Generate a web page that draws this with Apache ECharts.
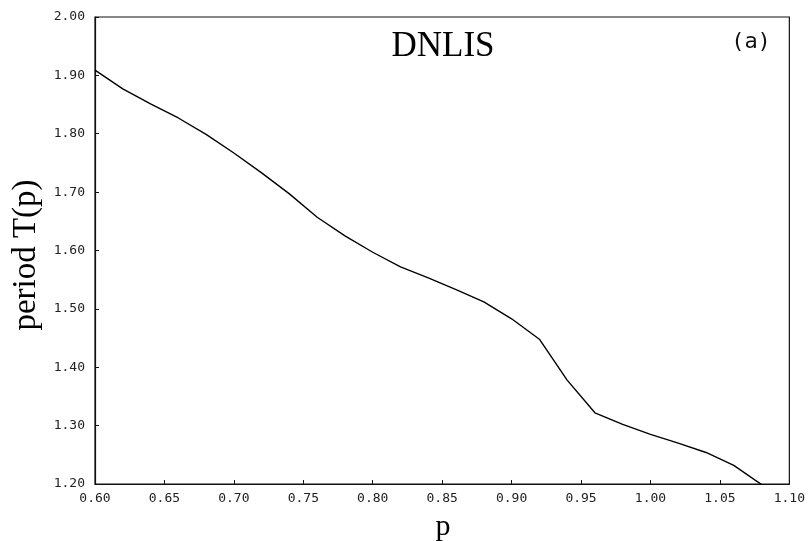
<!DOCTYPE html>
<html>
<head>
<meta charset="utf-8">
<script src="https://cdn.jsdelivr.net/npm/echarts@6/dist/echarts.min.js"></script>
<style>html,body{margin:0;padding:0;background:#fff;}#c{width:808px;height:541px;}</style>
</head>
<body>
<div id="c"></div>
<script>
var pValues = [0.60,0.62,0.64,0.66,0.68,0.70,0.72,0.74,0.76,0.78,0.80,0.82,0.84,0.86,0.88,0.90,0.92,0.94,0.96,0.98,1.00,1.02,1.04,1.06,1.08];
var periodValues = [1.909,1.877,1.851,1.827,1.799,1.767,1.733,1.697,1.657,1.625,1.597,1.572,1.553,1.533,1.512,1.483,1.448,1.378,1.322,1.302,1.285,1.270,1.254,1.232,1.199];
var titleText = 'DNLIS';
var panelLabel = '(a)';
var xLabel = 'p';
var yLabel = 'period T(p)';

var data = pValues.map(function (p, i) { return [p, periodValues[i]]; });
var monoFont = 'DejaVu Sans Mono';
var serifFont = 'Liberation Serif';

var chart = echarts.init(document.getElementById('c'), null, {renderer: 'canvas'});
chart.setOption({
  animation: false,
  backgroundColor: '#fff',
  grid: {left: 95, right: 17, top: 17, bottom: 57, show: true, borderColor: '#111', borderWidth: 1.2, backgroundColor: 'transparent'},
  xAxis: {
    type: 'value', min: 0.6, max: 1.1, interval: 0.05,
    axisLine: {show: true, lineStyle: {color: '#111', width: 1.2}},
    axisTick: {show: true, inside: true, length: 4, lineStyle: {color: '#111'}},
    splitLine: {show: false},
    axisLabel: {margin: 8, fontFamily: monoFont, fontSize: 13, color: '#222', formatter: function (v) { return v.toFixed(2); }}
  },
  yAxis: {
    type: 'value', min: 1.2, max: 2.0, interval: 0.1,
    axisLine: {show: true, lineStyle: {color: '#111', width: 1.2}},
    axisTick: {show: true, inside: true, length: 4, lineStyle: {color: '#111'}},
    splitLine: {show: false},
    axisLabel: {margin: 10, fontFamily: monoFont, fontSize: 13, color: '#222', formatter: function (v) { return v.toFixed(2); }}
  },
  series: [{
    type: 'line', data: data, symbol: 'none', smooth: false,
    lineStyle: {color: '#000', width: 1.4}
  }],
  graphic: [
    {type: 'text', x: 443, y: 47, style: {text: titleText, font: '35px "' + serifFont + '"', fill: '#000', textAlign: 'center', textVerticalAlign: 'middle'}},
    {type: 'text', x: 751, y: 42, style: {text: panelLabel, font: '22px "' + monoFont + '"', fill: '#111', textAlign: 'center', textVerticalAlign: 'middle'}},
    {type: 'text', x: 443, y: 527, style: {text: xLabel, font: '30px "' + serifFont + '"', fill: '#000', textAlign: 'center', textVerticalAlign: 'middle'}},
    {type: 'text', x: 26, y: 255, rotation: Math.PI / 2, style: {text: yLabel, font: '33px "' + serifFont + '"', fill: '#000', textAlign: 'center', textVerticalAlign: 'middle'}}
  ]
});
</script>
</body>
</html>
